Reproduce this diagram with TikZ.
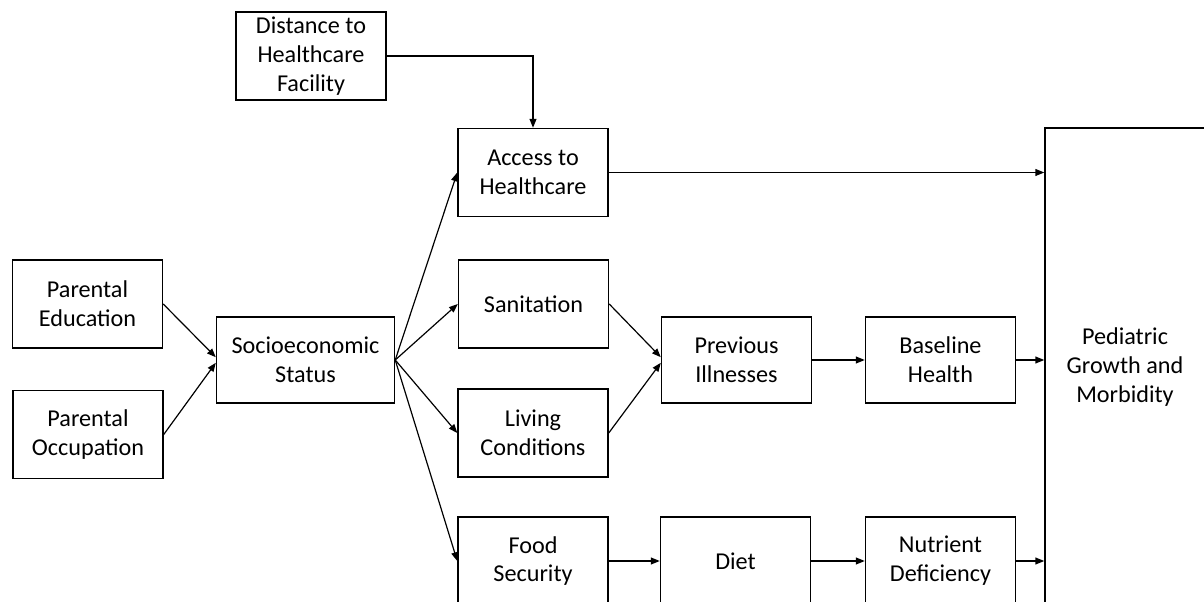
\documentclass[tikz,border=0pt]{standalone}
\usepackage{fontspec}
\setmainfont{Carlito}
\usetikzlibrary{arrows.meta}

\begin{document}
\begin{tikzpicture}[x=0.025cm, y=-0.025cm,
        box/.style={draw, line width=1pt, align=center, minimum width=3.75cm, minimum height=2.2cm,
            inner sep=2pt, font=\fontsize{17.2}{20.5}\selectfont},
        link/.style={line width=0.85pt, -{Triangle[length=2.2mm, width=1.7mm]}}]
        \clip (0,0) rectangle (1204,602);

        \node[box] (dist) at (311,56) {Distance to\\Healthcare\\Facility};
        \node[box] (access) at (533,172.5) {Access to\\Healthcare};
        \node[box] (paredu) at (87.5,304) {Parental\\Education};
        \node[box] (parocc) at (88,434.5) {Parental\\Occupation};
        \node[box, minimum width=4.45cm, minimum height=2.15cm] (ses) at (305.5,360) {Socioeconomic\\Status};
        \node[box] (sanit) at (533.5,304) {Sanitation};
        \node[box] (living) at (533,433) {Living\\Conditions};
        \node[box] (food) at (533,561) {Food\\Security};
        \node[box, minimum height=2.15cm] (prev) at (736.5,360) {Previous\\Illnesses};
        \node[box, minimum height=2.15cm] (base) at (940.5,360) {Baseline\\Health};
        \node[box] (diet) at (735.5,561) {Diet};
        \node[box] (nutr) at (940.5,561) {Nutrient\\Deficiency};
        \node[box, minimum width=4cm, minimum height=11.95cm] (ped) at (1125,367) {Pediatric\\Growth and\\Morbidity};

        \draw[link] (dist.east) -| (access.north);
        \draw[link] (paredu.east) -- ([yshift=2pt]ses.west);
        \draw[link] (parocc.east) -- ([yshift=-2pt]ses.west);

        \draw[link] (ses.east) -- (access.west);
        \draw[link] (ses.east) -- (sanit.west);
        \draw[link] (ses.east) -- (living.west);
        \draw[link] (ses.east) -- (food.west);

        \draw[link] (sanit.east) -- ([yshift=2pt]prev.west);
        \draw[link] (living.east) -- ([yshift=-2pt]prev.west);
        \draw[link] (prev.east) -- (base.west);
        \draw[link] (food.east) -- (diet.west);
        \draw[link] (diet.east) -- (nutr.west);

        \draw[link] (access.east) -- (access.east -| ped.west);
        \draw[link] (base.east) -- (base.east -| ped.west);
        \draw[link] (nutr.east) -- (nutr.east -| ped.west);
    \end{tikzpicture}
\end{document}
